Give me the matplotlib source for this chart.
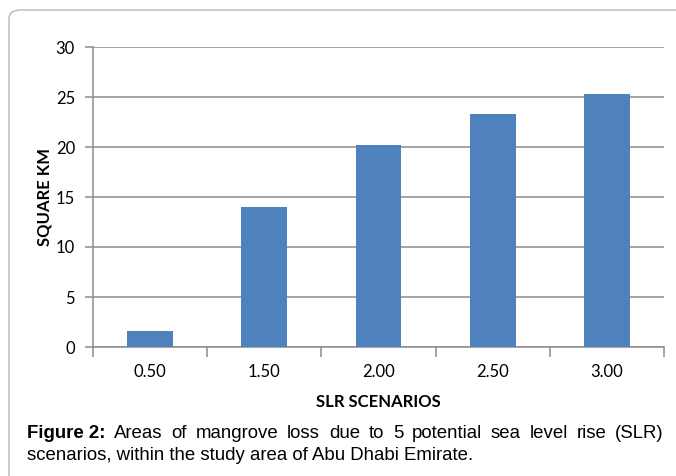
import matplotlib
matplotlib.use("Agg")
import matplotlib.pyplot as plt
from matplotlib.patches import FancyBboxPatch

# mangrove loss per sea level rise scenario
scenarios = ["0.50", "1.50", "2.00", "2.50", "3.00"]
loss_km2 = [1.6, 14.0, 20.2, 23.3, 25.3]
y_ticks = [0, 5, 10, 15, 20, 25, 30]

caption_bold = "Figure 2:"
caption_line1 = "Areas of mangrove loss due to 5 potential sea level rise (SLR)"
caption_line2 = "scenarios, within the study area of Abu Dhabi Emirate."

BAR = "#4F81BD"
GRID = "#8C8C8C"
W, H = 676, 476

fig = plt.figure(figsize=(W / 100, H / 100), dpi=100, facecolor="white")

# rounded frame around the chart
frame = FancyBboxPatch((9 / W, -0.2), 1.2, 1 - 10 / H + 0.2,
                       boxstyle="round,pad=0,rounding_size=0.018",
                       transform=fig.transFigure, fill=False,
                       ec="#BDBDBD", lw=1.1)
fig.patches.append(frame)

ax = fig.add_axes([93 / W, 1 - 347 / H, (664 - 93) / W, 300 / H])
x = list(range(len(scenarios)))
ax.bar(x, loss_km2, width=0.4, color=BAR, zorder=3)

ax.set_xlim(-0.5, len(scenarios) - 0.5)
ax.set_ylim(0, 30)
ax.set_yticks(y_ticks)
ax.yaxis.grid(True, color=GRID, lw=1.1, zorder=0)
ax.set_axisbelow(True)

for side in ["top", "right"]:
    ax.spines[side].set_visible(False)
for side in ["left", "bottom"]:
    ax.spines[side].set_color(GRID)
    ax.spines[side].set_linewidth(1.1)

tick_font = dict(family=["Lato", "DejaVu Sans"], size=12)
ax.set_xticks(x)
ax.set_xticklabels(scenarios, **tick_font)
ax.set_yticklabels([str(t) for t in y_ticks], **tick_font)
ax.tick_params(axis="x", length=0, pad=12)
ax.tick_params(axis="y", length=6, width=1.1, color=GRID, pad=7)
# x ticks sit on the category boundaries
ax.set_xticks([i - 0.5 for i in range(len(scenarios) + 1)], minor=True)
ax.tick_params(axis="x", which="minor", length=7, width=1.1, color=GRID)

label_font = dict(family=["Lato", "DejaVu Sans"], size=12, weight="bold")
ax.set_xlabel("SLR SCENARIOS", labelpad=10.5, **label_font)
ax.set_ylabel("SQUARE KM", labelpad=2, **label_font)

# caption, first line justified across the frame width
cap_font = dict(family=["Liberation Sans", "DejaVu Sans"], size=13.4)
left, right = 27, 664
y1 = 1 - 438 / H
y2 = 1 - 460 / H
renderer = fig.canvas.get_renderer()
words = [(caption_bold, "bold")] + [(w, "normal") for w in caption_line1.split()]
items = []
for w, wt in words:
    t = fig.text(0, y1, w, ha="left", va="baseline", weight=wt, **cap_font)
    items.append(t)
widths = [t.get_window_extent(renderer).width for t in items]
gap = (right - left - sum(widths)) / (len(items) - 1)
pos = left
for t, wd in zip(items, widths):
    t.set_x(pos / W)
    pos += wd + gap

fig.text(left / W, y2, caption_line2, ha="left", va="baseline", **cap_font)

fig.savefig("out.png", dpi=100, facecolor="white")
